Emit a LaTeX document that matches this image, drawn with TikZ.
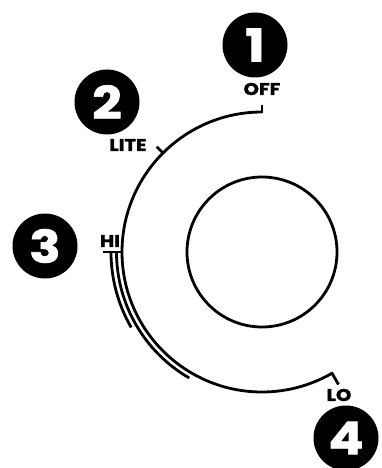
\documentclass[tikz,border=0pt]{standalone}
\usepackage{fontspec}
\setmainfont{Poppins}[BoldFeatures={FakeBold=1.5}]
\newfontfamily\widefont{Poppins}[FakeStretch=1.15, BoldFeatures={FakeBold=1.5}]
\usepackage{tikz}
\usetikzlibrary{calc}

\begin{document}
\begin{tikzpicture}[x=1pt, y=1pt, line width=2.8pt,
  badge/.style={circle, fill=black, text=white, minimum size=65pt, inner sep=0pt,
    font=\widefont\fontsize{45}{45}\selectfont\bfseries},
  setting/.style={inner sep=0pt, font=\widefont\fontsize{17}{17}\selectfont\bfseries}]
\useasboundingbox (0,0) rectangle (381,-468);
\coordinate (knob) at (262,-252);
% knob
\draw (knob) circle[radius=75];
% dial
\draw (knob) ++(90:140) arc[start angle=90, end angle=300, radius=140];
\draw (knob) ++(180:145.5) arc[start angle=180, end angle=240, radius=145.5];
\draw (knob) ++(180:151) arc[start angle=180, end angle=210, radius=151];
% ticks
\draw ($(knob)+(90:139)$) -- ($(knob)+(90:147)$);
\draw ($(knob)+(135:139)$) -- ($(knob)+(135:149)$);
\draw ($(knob)+(180:139)$) -- ($(knob)+(180:159)$);
\draw ($(knob)+(300:139)$) -- ($(knob)+(300:153)$);
% settings
\foreach \n/\p/\q/\t in {1/{255,-45}/{262,-89}/OFF, 2/{107,-102}/{128,-145}/LITE,
  3/{45,-246}/{110,-241}/HI, 4/{346,-438}/{339,-395}/LO} {
  \node[badge] (badge\n) at (\p) {\n};
  \node[setting] (label\n) at (\q) {\t};
}
\end{tikzpicture}
\end{document}
